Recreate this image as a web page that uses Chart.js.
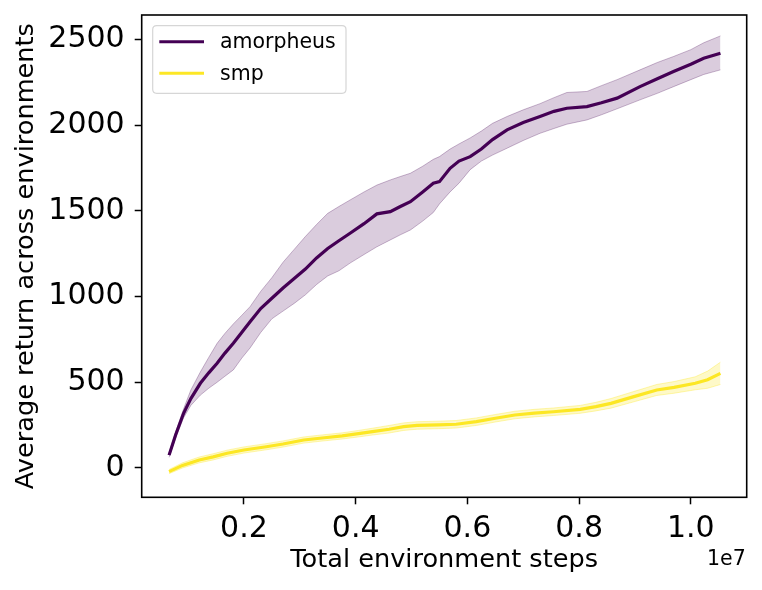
<!DOCTYPE html>
<html><head><meta charset="utf-8">
<script src="https://cdn.jsdelivr.net/npm/chart.js@4.4.1/dist/chart.umd.min.js"></script>
<style>html,body{margin:0;padding:0;background:#fff}canvas{display:block}</style>
</head><body>
<canvas id="c" width="762" height="590"></canvas>
<script>
// ---- data ----
const amorphSteps = [0.66e6,0.78e6,0.92e6,1.05e6,1.22e6,1.37e6,1.52e6,1.66e6,1.81e6,1.96e6,2.11e6,2.3e6,2.5e6,2.7e6,2.9e6,3.1e6,3.3e6,3.5e6,3.7e6,3.9e6,4.15e6,4.38e6,4.62e6,4.8e6,4.98e6,5.2e6,5.39e6,5.5e6,5.69e6,5.85e6,6.05e6,6.25e6,6.45e6,6.71e6,7.0e6,7.3e6,7.55e6,7.78e6,8.14e6,8.4e6,8.68e6,9.09e6,9.4e6,9.69e6,10.0e6,10.23e6,10.53e6];
const amorphMean = [75,195,319,405,494,555,611,670,727,790,853,930,990,1050,1105,1160,1225,1280,1325,1369,1425,1482,1495,1525,1553,1610,1661,1670,1748,1790,1816,1860,1915,1972,2015,2050,2080,2098,2108,2130,2157,2224,2270,2312,2355,2390,2419];
const amorphUpper = [88,212,345,455,560,645,727,785,840,890,941,1030,1110,1200,1275,1350,1420,1485,1525,1563,1610,1650,1680,1700,1719,1760,1800,1816,1860,1890,1925,1965,2010,2050,2089,2125,2160,2190,2196,2230,2265,2322,2365,2400,2440,2480,2520];
const amorphLower = [62,178,293,365,425,465,500,535,572,640,700,790,870,915,960,1010,1070,1120,1150,1195,1245,1290,1330,1360,1388,1440,1490,1540,1610,1661,1740,1790,1825,1865,1910,1952,1980,2005,2030,2060,2095,2147,2185,2224,2265,2295,2322];

const smpSteps = [0.66e6,0.9e6,1.2e6,1.45e6,1.7e6,2.0e6,2.4e6,2.7e6,3.07e6,3.4e6,3.76e6,4.05e6,4.3e6,4.6e6,4.86e6,5.1e6,5.48e6,5.8e6,6.16e6,6.5e6,6.85e6,7.2e6,7.54e6,8.02e6,8.3e6,8.57e6,8.98e6,9.39e6,9.7e6,10.08e6,10.3e6,10.53e6];
const smpMean  = [-21,15,47,65,86,105,124,140,163,175,187,200,212,226,241,248,251,255,270,290,309,320,328,342,358,377,416,455,470,494,515,552];
const smpUpper = [-9,30,64,83,104,123,142,158,181,193,205,219,232,248,263,270,273,277,292,312,331,342,350,365,383,405,446,487,504,532,565,617];
const smpLower = [-33,0,30,47,68,87,106,122,145,157,169,181,192,204,219,226,229,233,248,268,287,298,306,319,333,349,386,423,436,456,465,487];

const xTickValues = [2e6,4e6,6e6,8e6,10e6];
const xTickLabels = ['0.2','0.4','0.6','0.8','1.0'];
const yTickValues = [0,500,1000,1500,2000,2500];
const yTickLabels = ['0','500','1000','1500','2000','2500'];
const seriesNames = ['amorpheus','smp'];

// ---- helpers ----
const pts = (xs, ys) => xs.map((x, i) => ({x: x, y: ys[i]}));
const PURPLE = '#440154', YELLOW = '#fde725';
const FONT = "'DejaVu Sans', sans-serif";

const framePlugin = {
  id: 'frame',
  afterDraw(chart) {
    const {ctx, chartArea: a} = chart;
    ctx.save();
    ctx.strokeStyle = '#000';
    ctx.lineWidth = 1.6;
    ctx.strokeRect(a.left, a.top, a.right - a.left, a.bottom - a.top);
    // legend
    const lx = a.left + 11, ly = a.top + 10.7, lw = 193.3, lh = 67.6, r = 4;
    ctx.beginPath();
    ctx.moveTo(lx + r, ly);
    ctx.lineTo(lx + lw - r, ly); ctx.quadraticCurveTo(lx + lw, ly, lx + lw, ly + r);
    ctx.lineTo(lx + lw, ly + lh - r); ctx.quadraticCurveTo(lx + lw, ly + lh, lx + lw - r, ly + lh);
    ctx.lineTo(lx + r, ly + lh); ctx.quadraticCurveTo(lx, ly + lh, lx, ly + lh - r);
    ctx.lineTo(lx, ly + r); ctx.quadraticCurveTo(lx, ly, lx + r, ly);
    ctx.closePath();
    ctx.fillStyle = 'rgba(255,255,255,0.8)';
    ctx.fill();
    ctx.strokeStyle = '#d6d6d6';
    ctx.lineWidth = 1.2;
    ctx.stroke();
    const items = chart.data.datasets.filter(d => d.legendItem);
    items.forEach((d, i) => {
      const y = ly + 16 + i * 31.6;
      ctx.strokeStyle = d.borderColor;
      ctx.lineWidth = 3;
      ctx.beginPath();
      ctx.moveTo(lx + 6.6, y); ctx.lineTo(lx + 51.3, y);
      ctx.stroke();
      ctx.fillStyle = '#000';
      ctx.font = '20.5px ' + FONT;
      ctx.textAlign = 'left';
      ctx.textBaseline = 'middle';
      ctx.fillText(d.label, lx + 67.3, y + 1);
    });
    // offset text
    ctx.font = '20.5px ' + FONT;
    ctx.textAlign = 'right';
    ctx.textBaseline = 'alphabetic';
    ctx.fillStyle = '#000';
    ctx.fillText('1e7', a.right - 1, a.bottom + 68);
    ctx.restore();
  }
};

const thin = {pointRadius: 0, borderWidth: 1, tension: 0};
new Chart(document.getElementById('c'), {
  type: 'line',
  data: {
    datasets: [
      Object.assign({label: 'a_up', data: pts(amorphSteps, amorphUpper), borderColor: 'rgba(68,1,84,0.28)', backgroundColor: 'rgba(68,1,84,0.2)', fill: '+1'}, thin),
      Object.assign({label: 'a_lo', data: pts(amorphSteps, amorphLower), borderColor: 'rgba(68,1,84,0.28)', fill: false}, thin),
      {label: seriesNames[0], legendItem: true, data: pts(amorphSteps, amorphMean), borderColor: PURPLE, borderWidth: 3.2, pointRadius: 0, fill: false, tension: 0},
      Object.assign({label: 's_up', data: pts(smpSteps, smpUpper), borderColor: 'rgba(253,231,37,0.35)', backgroundColor: 'rgba(253,231,37,0.25)', fill: '+1'}, thin),
      Object.assign({label: 's_lo', data: pts(smpSteps, smpLower), borderColor: 'rgba(253,231,37,0.35)', fill: false}, thin),
      {label: seriesNames[1], legendItem: true, data: pts(smpSteps, smpMean), borderColor: YELLOW, borderWidth: 3.2, pointRadius: 0, fill: false, tension: 0}
    ]
  },
  options: {
    responsive: false,
    animation: false,
    devicePixelRatio: 1,
    layout: {padding: {left: 0, top: 15, right: 15.3, bottom: 0}},
    plugins: {legend: {display: false}, tooltip: {enabled: false}},
    scales: {
      x: {
        type: 'linear',
        min: 170000, max: 11000000,
        afterBuildTicks: s => { s.ticks = xTickValues.map(v => ({value: v})); },
        afterFit: s => { s.height = 92.7; s.paddingLeft = 0; s.paddingRight = 0; },
        grid: {drawOnChartArea: false, drawTicks: true, tickLength: 7, tickColor: '#000', tickWidth: 1.5},
        border: {display: false},
        ticks: {
          color: '#000', padding: 7, maxRotation: 0, autoSkip: false,
          font: {family: FONT, size: 30},
          callback: v => xTickLabels[xTickValues.indexOf(v)]
        },
        title: {display: true, text: 'Total environment steps', color: '#000', font: {family: FONT, size: 25.6}, padding: {top: 0, bottom: 14}}
      },
      y: {
        type: 'linear',
        min: -171, max: 2642,
        afterBuildTicks: s => { s.ticks = yTickValues.map(v => ({value: v})); },
        afterFit: s => { s.width = 141.7; s.paddingTop = 0; s.paddingBottom = 0; },
        grid: {drawOnChartArea: false, drawTicks: true, tickLength: 7, tickColor: '#000', tickWidth: 1.5},
        border: {display: false},
        ticks: {
          color: '#000', padding: 10, autoSkip: false,
          font: {family: FONT, size: 30},
          callback: v => yTickLabels[yTickValues.indexOf(v)]
        },
        title: {display: true, text: 'Average return across environments', color: '#000', font: {family: FONT, size: 25.6}, padding: {top: 11.4, bottom: 0}}
      }
    }
  },
  plugins: [framePlugin]
});
</script>
</body></html>
